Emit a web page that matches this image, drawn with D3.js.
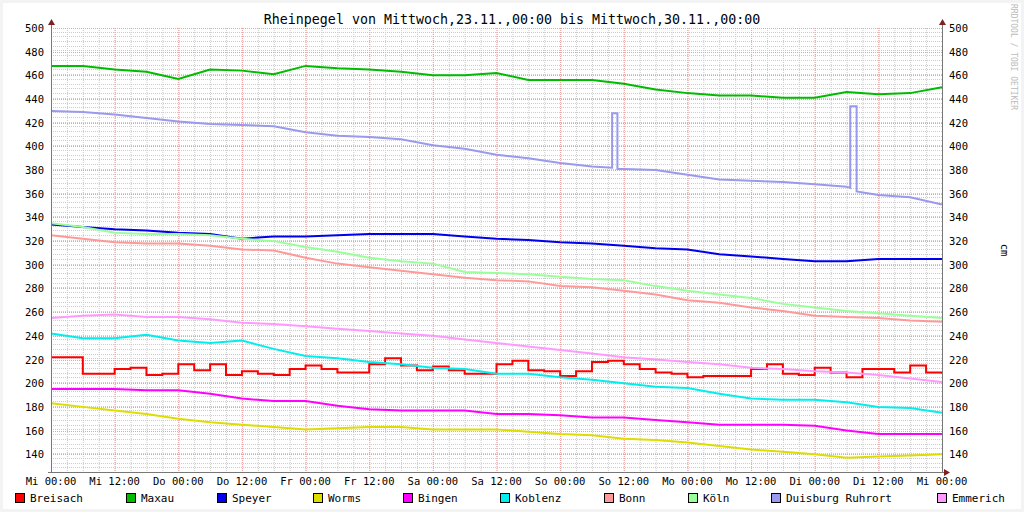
<!DOCTYPE html>
<html><head><meta charset="utf-8">
<script src="https://cdn.jsdelivr.net/npm/d3@7"></script>
<style>body{margin:0;background:#fff}svg{display:block}text{font-family:"DejaVu Sans Mono",monospace}</style>
</head><body><svg id="c" width="1024" height="512"></svg>
<script>
// hours since Mi 23.11. 00:00, 6h steps
const hours6 = d3.range(0, 169, 6);
const hours3 = d3.range(0, 169, 3);
const xTicks = d3.range(0, 169, 12);
const xTickLabels = ["Mi 00:00","Mi 12:00","Do 00:00","Do 12:00","Fr 00:00","Fr 12:00","Sa 00:00","Sa 12:00","So 00:00","So 12:00","Mo 00:00","Mo 12:00","Di 00:00","Di 12:00","Mi 00:00"];

const breisach = [222,222,208,208,212,213,207,208,216,211,216,207,210,208,207,212,215,212,209,209,216,221,215,211,214,211,208,208,216,219,211,210,206,210,218,219,216,212,209,208,205,206,206,206,212,216,208,207,213,209,205,212,212,209,215,209,208];
const maxau = [468,468,465,463,457,465,464,461,468,466,465,463,460,460,462,456,456,456,453,448,445,443,443,441,441,446,444,445,450];
const speyer = [334,332,330,329,327,326,322,324,324,325,326,326,326,324,322,321,319,318,316,314,313,309,307,305,303,303,305,305,305];
const worms = [183,180,177,174,170,167,165,163,161,162,163,163,161,161,161,159,157,156,153,152,150,147,144,142,140,137,138,139,140];
const bingen = [195,195,195,194,194,191,187,185,185,181,178,177,177,177,174,174,173,171,171,169,167,165,165,165,164,160,157,157,157];
const koblenz = [242,238,238,241,236,234,236,229,223,221,218,216,213,212,208,208,205,203,200,197,196,191,187,186,186,184,180,179,175];
const bonn = [325,322,319,318,318,316,313,312,306,301,298,295,292,289,287,286,282,281,278,275,270,268,264,261,257,256,255,253,252];
const koeln = [335,332,327,326,326,325,322,320,315,311,306,303,301,294,293,292,290,288,287,282,278,275,272,267,264,261,259,257,255];
const emmerich = [255,257,258,256,256,254,251,250,248,246,244,242,240,237,234,231,228,225,222,220,218,216,213,212,210,209,207,204,201];
// Duisburg has two short spikes
const duisburgHours = [0,6,12,18,24,30,36,42,48,54,60,66,72,78,84,90,96,102,105.8,105.8,106.8,106.8,108,114,120,126,132,138,144,150,150.7,150.7,151.9,151.9,156,162,168];
const duisburg = [430,429,427,424,421,419,418,417,412,409,408,406,401,398,393,390,386,383,382,428,428,381,381,380,376,372,371,370,368,366,365,434,434,362,359,357,351];

const names = ["Breisach","Maxau","Speyer","Worms","Bingen","Koblenz","Bonn","Köln","Duisburg Ruhrort","Emmerich"];
const colors = ["#ff0000","#00bb00","#0000ee","#dddd00","#ff00ff","#00eeee","#ff9999","#99ff99","#9999ee","#ff99ff"];
const legendX = [15,126,217,313,403,500,604,688,771,937];

const series = [
  {h: hours3, v: breisach, step: true}, {h: hours6, v: maxau}, {h: hours6, v: speyer}, {h: hours6, v: worms},
  {h: hours6, v: bingen}, {h: hours6, v: koblenz}, {h: hours6, v: bonn}, {h: hours6, v: koeln},
  {h: duisburgHours, v: duisburg}, {h: hours6, v: emmerich}
];

const svg = d3.select("#c");
svg.append("rect").attr("width",1024).attr("height",512).attr("fill","#f3f3f3");
svg.append("rect").attr("x",3).attr("y",3).attr("width",1018).attr("height",506).attr("fill","#fff");

const x = d3.scaleLinear().domain([0,168]).range([51,942]);
const y = d3.scaleLinear().domain([125,500]).range([472,28]);

// minor grid
const g = svg.append("g");
g.selectAll(".mx").data(d3.range(0,169,3)).join("line")
  .attr("x1",d=>x(d)+0.5).attr("x2",d=>x(d)+0.5).attr("y1",28).attr("y2",472)
  .attr("stroke","#cccccc").attr("stroke-dasharray","1,1");
g.selectAll(".my").data(d3.range(125,501,4)).join("line")
  .attr("y1",d=>Math.round(y(d))+0.5).attr("y2",d=>Math.round(y(d))+0.5).attr("x1",51).attr("x2",942)
  .attr("stroke","#cccccc").attr("stroke-dasharray","1,1");
// major grid
g.selectAll(".Mx").data(xTicks).join("line")
  .attr("x1",d=>x(d)+0.5).attr("x2",d=>x(d)+0.5).attr("y1",28).attr("y2",472)
  .attr("stroke","#f0a0a0").attr("stroke-dasharray","1,1");
g.selectAll(".My").data(d3.range(140,501,20)).join("line")
  .attr("y1",d=>Math.round(y(d))+0.5).attr("y2",d=>Math.round(y(d))+0.5).attr("x1",51).attr("x2",942)
  .attr("stroke","#f0a0a0").attr("stroke-dasharray","1,1");

// lines
const stepLine = d3.line().curve(d3.curveStepAfter);
const plainLine = d3.line();
series.forEach((s,i) => {
  const gen = s.step ? stepLine : plainLine;
  svg.append("path")
    .attr("d", gen(s.h.map((h,j)=>[x(h), y(s.v[j])])))
    .attr("fill","none").attr("stroke",colors[i]).attr("stroke-width",2);
});

// axes
const axC = "#777";
svg.append("line").attr("x1",51.5).attr("x2",51.5).attr("y1",24).attr("y2",473).attr("stroke",axC);
svg.append("line").attr("x1",942.5).attr("x2",942.5).attr("y1",24).attr("y2",473).attr("stroke",axC);
svg.append("line").attr("x1",48).attr("x2",946).attr("y1",472.5).attr("y2",472.5).attr("stroke",axC);
svg.append("path").attr("d","M48,25 L51.5,19 L55,25Z").attr("fill","#802020");
svg.append("path").attr("d","M939,25 L942.5,19 L946,25Z").attr("fill","#802020");
svg.append("path").attr("d","M944,469 L950,472.5 L944,476Z").attr("fill","#802020");

const ticksY = d3.range(140,501,20);
svg.selectAll(".ly").data(ticksY).join("text").attr("x",44).attr("y",d=>y(d)+4)
  .attr("text-anchor","end").attr("font-size",10.5).text(d=>d);
svg.selectAll(".ry").data(ticksY).join("text").attr("x",949).attr("y",d=>y(d)+4)
  .attr("font-size",10.5).text(d=>d);
svg.selectAll(".lx").data(xTicks).join("text").attr("x",d=>x(d)).attr("y",485)
  .attr("text-anchor","middle").attr("font-size",10.5).text((d,i)=>xTickLabels[i]);

svg.append("text").attr("x",512).attr("y",24).attr("text-anchor","middle").attr("font-size",13.3)
  .text("Rheinpegel von Mittwoch,23.11.,00:00 bis Mittwoch,30.11.,00:00");
svg.append("text").attr("transform","translate(1001,250) rotate(90)").attr("text-anchor","middle")
  .attr("font-size",10.5).text("cm");
svg.append("text").attr("transform","translate(1011,4) rotate(90)").attr("font-size",8)
  .attr("fill","#bbbbbb").text("RRDTOOL / TOBI OETIKER");

// legend
const lg = svg.selectAll(".lg").data(names).join("g").attr("transform",(d,i)=>`translate(${legendX[i]},493)`);
lg.append("rect").attr("x",0.5).attr("y",0.5).attr("width",9).attr("height",9)
  .attr("fill",(d,i)=>colors[i]).attr("stroke","#000");
lg.append("text").attr("x",15).attr("y",9).attr("font-size",11).text(d=>d);
</script></body></html>
